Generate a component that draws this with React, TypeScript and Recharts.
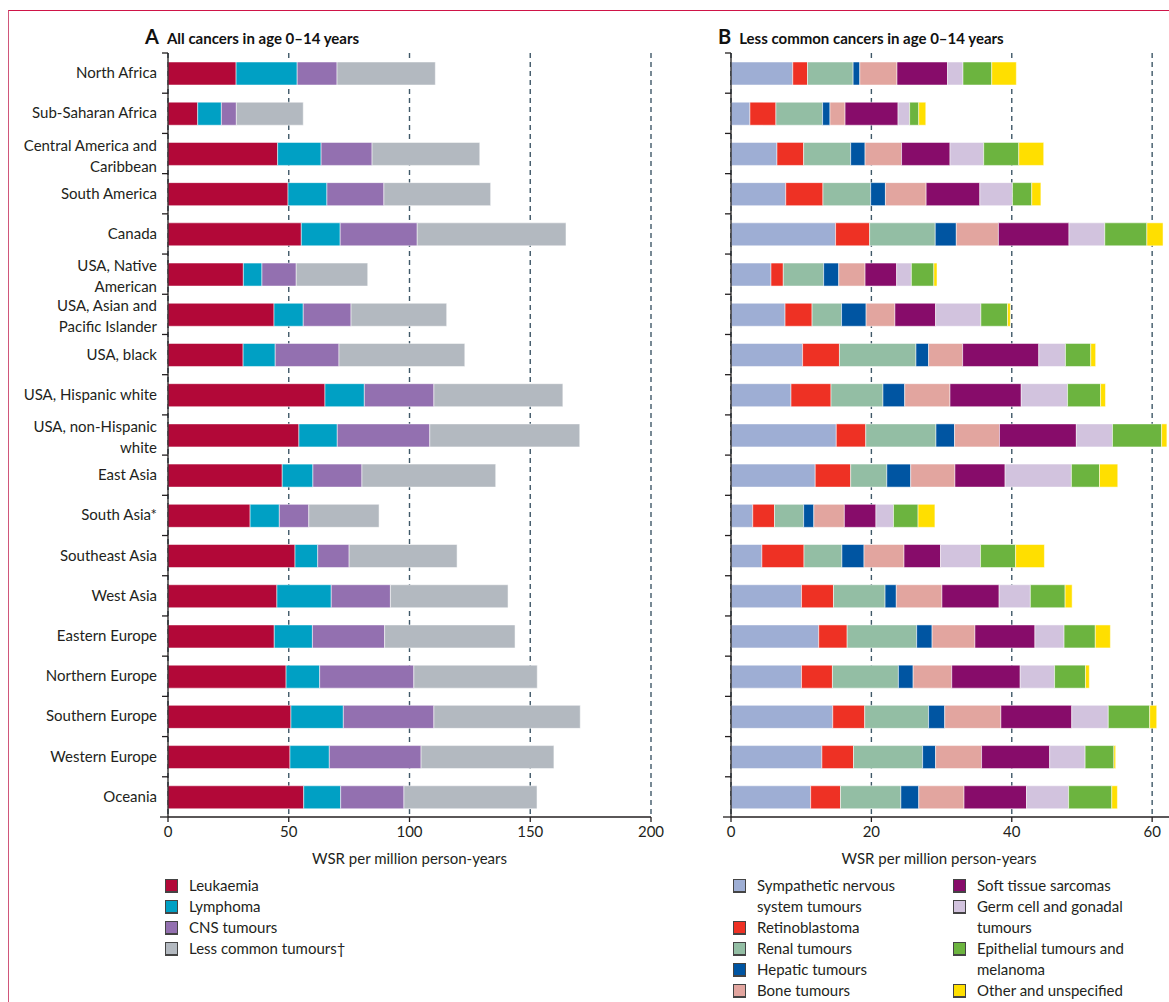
import React from "react"
import { BarChart, Bar, XAxis, YAxis, CartesianGrid } from "recharts"

// regions, top to bottom
const regions = [
  "North Africa",
  "Sub-Saharan Africa",
  "Central America and\nCaribbean",
  "South America",
  "Canada",
  "USA, Native\nAmerican",
  "USA, Asian and\nPacific Islander",
  "USA, black",
  "USA, Hispanic white",
  "USA, non-Hispanic\nwhite",
  "East Asia",
  "South Asia*",
  "Southeast  Asia",
  "West Asia",
  "Eastern Europe",
  "Northern Europe",
  "Southern Europe",
  "Western Europe",
  "Oceania",
]

// panel A, WSR per million
const leukaemia = [28.2, 12.3, 45.4, 49.7, 55.2, 31.2, 43.9, 31.1, 65.0, 54.2, 47.3, 34.0, 52.6, 45.1, 44.0, 48.9, 50.9, 50.5, 56.2]
const lymphoma = [25.3, 9.8, 18.0, 16.1, 16.1, 7.7, 12.1, 13.3, 16.3, 15.9, 12.7, 12.1, 9.4, 22.5, 15.8, 13.9, 21.7, 16.3, 15.3]
const cns = [16.5, 6.2, 21.1, 23.6, 31.9, 14.2, 19.8, 26.4, 28.8, 38.3, 20.3, 12.2, 13.0, 24.5, 29.9, 39.0, 37.5, 38.0, 26.2]
const lessCommon = [40.7, 27.7, 44.6, 44.2, 61.6, 29.6, 39.6, 52.1, 53.4, 62.1, 55.4, 29.1, 44.7, 48.7, 54.0, 51.1, 60.6, 55.0, 55.1]

// panel B, WSR per million
const sympathetic = [8.8, 2.7, 6.55, 7.8, 14.9, 5.7, 7.7, 10.2, 8.55, 15.0, 12.0, 3.1, 4.4, 10.05, 12.5, 10.05, 14.5, 12.95, 11.35]
const retinoblastoma = [2.1, 3.7, 3.8, 5.3, 4.85, 1.75, 3.85, 5.25, 5.7, 4.2, 5.05, 3.1, 6.0, 4.55, 4.05, 4.4, 4.55, 4.5, 4.25]
const renal = [6.5, 6.65, 6.7, 6.8, 9.35, 5.75, 4.2, 10.9, 7.4, 10.0, 5.15, 4.15, 5.4, 7.35, 9.9, 9.4, 9.1, 9.85, 8.6]
const hepatic = [0.95, 1.05, 2.05, 2.1, 3.0, 2.15, 3.5, 1.8, 3.1, 2.65, 3.4, 1.45, 3.15, 1.6, 2.2, 2.1, 2.3, 1.85, 2.55]
const bone = [5.3, 2.15, 5.2, 5.8, 6.0, 3.75, 4.1, 4.85, 6.45, 6.4, 6.3, 4.35, 5.7, 6.5, 6.1, 5.5, 8.0, 6.55, 6.45]
const softTissue = [7.2, 7.55, 6.9, 7.65, 10.05, 4.5, 5.8, 10.85, 10.15, 10.95, 7.15, 4.5, 5.2, 8.15, 8.55, 9.75, 10.1, 9.7, 8.9]
const germCell = [2.2, 1.65, 4.8, 4.65, 5.1, 2.1, 6.45, 3.8, 6.6, 5.15, 9.45, 2.5, 5.7, 4.45, 4.15, 4.9, 5.2, 5.05, 6.0]
const epithelial = [4.1, 1.3, 5.0, 2.75, 6.0, 3.2, 3.8, 3.6, 4.7, 7.0, 4.0, 3.5, 5.0, 4.95, 4.45, 4.4, 5.9, 4.1, 6.15]
const other = [3.5, 1.0, 3.55, 1.3, 2.3, 0.45, 0.4, 0.7, 0.7, 0.75, 2.6, 2.4, 4.1, 1.0, 2.15, 0.55, 1.0, 0.25, 0.8]

const ticksA = [0, 50, 100, 150, 200]
const ticksB = [0, 20, 40, 60]

const seriesA = [
  { key: "leukaemia", name: "Leukaemia", color: "#b20838", values: leukaemia },
  { key: "lymphoma", name: "Lymphoma", color: "#00a0c4", values: lymphoma },
  { key: "cns", name: "CNS tumours", color: "#9370b0", values: cns },
  { key: "lessCommon", name: "Less common tumours†", color: "#b3b9c0", values: lessCommon },
]

const seriesB = [
  { key: "sympathetic", name: "Sympathetic nervous\nsystem tumours", color: "#9eaed4", values: sympathetic },
  { key: "retinoblastoma", name: "Retinoblastoma", color: "#ee3124", values: retinoblastoma },
  { key: "renal", name: "Renal tumours", color: "#93bea4", values: renal },
  { key: "hepatic", name: "Hepatic tumours", color: "#0055a2", values: hepatic },
  { key: "bone", name: "Bone tumours", color: "#e2a59f", values: bone },
  { key: "softTissue", name: "Soft tissue sarcomas", color: "#870c6a", values: softTissue },
  { key: "germCell", name: "Germ cell and gonadal\ntumours", color: "#d2c3de", values: germCell },
  { key: "epithelial", name: "Epithelial tumours and\nmelanoma", color: "#6cb43f", values: epithelial },
  { key: "other", name: "Other and unspecified", color: "#ffdf00", values: other },
]

const dataA = regions.map((r, i) => {
  const row: Record<string, any> = { region: r }
  seriesA.forEach(s => { row[s.key] = s.values[i] })
  return row
})
const dataB = regions.map((r, i) => {
  const row: Record<string, any> = { region: r }
  seriesB.forEach(s => { row[s.key] = s.values[i] })
  return row
})

const FONT = "Lato, 'Noto Sans', sans-serif"
const INK = "#231f20"
const GRID = "#3f5868"
const PLOT_TOP = 53
const PLOT_H = 764
const ROW_H = PLOT_H / regions.length
const TICK_OFF = 11 // tickSize + tickMargin on the y axis
const A_MAX = 200
const B_MAX = 62.4

// grid lines only at the listed ticks (no extra line at the domain end)
const gridAt = (ticks: number[], max: number) => (args: any) => {
  const { offset } = args
  return ticks.map(t => offset.left + (t / max) * offset.width)
}

function RegionTick(props: any) {
  const { x, y, payload, index, showText } = props
  const axisX = x + TICK_OFF
  const lines = String(payload.value).split("\n")
  const last = index === regions.length - 1
  return (
    <g>
      <line x1={axisX - 6} x2={axisX} y1={y - ROW_H / 2} y2={y - ROW_H / 2} stroke={INK} strokeWidth={1.3} />
      {last && (
        <line x1={axisX - 8} x2={axisX} y1={y + ROW_H / 2} y2={y + ROW_H / 2} stroke={INK} strokeWidth={1.3} />
      )}
      {showText && (
        <text x={x} y={y} textAnchor="end" fill={INK} fontSize={15} fontFamily={FONT}>
          {lines.map((l, i) => (
            <tspan key={i} x={x} dy={i === 0 ? (lines.length > 1 ? -3 : 5) : 21}>{l}</tspan>
          ))}
        </text>
      )}
    </g>
  )
}

function Swatch({ color }: { color: string }) {
  return (
    <span style={{
      display: "inline-block", width: 11, height: 11, background: color,
      border: "1px solid #444", borderBottomWidth: 2, marginRight: 11, flexShrink: 0, marginTop: 4,
    }} />
  )
}

function LegendItem({ name, color }: { name: string, color: string }) {
  return (
    <div style={{ display: "flex", alignItems: "flex-start", lineHeight: "21px", fontSize: 15, color: INK }}>
      <Swatch color={color} />
      <div style={{ whiteSpace: "pre" }}>{name}</div>
    </div>
  )
}

export default function App() {
  return (
    <div style={{ position: "absolute", left: 0, top: 0, width: 1169, height: 1002, background: "#fff", fontFamily: FONT, overflow: "hidden" }}>
      <div style={{ position: "absolute", left: 8, top: 10, width: 1200, height: 1100, borderTop: "1.5px solid #cf1448", borderLeft: "1.5px solid #d0567a" }} />

      <div style={{ position: "absolute", left: 145, top: 24, color: "#111", fontWeight: 700, whiteSpace: "nowrap" }}>
        <span style={{ fontSize: 20 }}>A</span>
        <span style={{ fontSize: 15, marginLeft: 8 }}>All cancers in age 0–14 years</span>
      </div>
      <div style={{ position: "absolute", left: 718, top: 24, color: "#111", fontWeight: 700, whiteSpace: "nowrap" }}>
        <span style={{ fontSize: 20 }}>B</span>
        <span style={{ fontSize: 15, marginLeft: 8 }}>Less common cancers in age 0–14 years</span>
      </div>

      <div style={{ position: "absolute", left: 0, top: 0 }}>
        <BarChart width={680} height={880} data={dataA} layout="vertical" barCategoryGap={0}
          margin={{ top: PLOT_TOP, right: 29, left: 0, bottom: 0 }}>
          <CartesianGrid horizontal={false} stroke={GRID} strokeWidth={1.4} strokeDasharray="5 4"
            verticalCoordinatesGenerator={gridAt(ticksA, A_MAX)} />
          <XAxis type="number" domain={[0, A_MAX]} ticks={ticksA} height={63}
            axisLine={{ stroke: INK, strokeWidth: 1.3 }} tickLine={{ stroke: INK, strokeWidth: 1.3 }}
            tickSize={5} tickMargin={4}
            tick={{ fill: INK, fontSize: 15, fontFamily: FONT }}
            label={{ value: "WSR per million person-years", position: "insideBottom", offset: 16, fill: INK, fontSize: 15, fontFamily: FONT }} />
          <YAxis type="category" dataKey="region" width={168} interval={0}
            axisLine={{ stroke: INK, strokeWidth: 1.3 }} tickLine={false} tickSize={8} tickMargin={3}
            tick={<RegionTick showText />} />
          {seriesA.map(s => (
            <Bar key={s.key} dataKey={s.key} name={s.name} stackId="a" fill={s.color} barSize={23}
              stroke="#ffffff" strokeWidth={0.5} isAnimationActive={false} />
          ))}
        </BarChart>
      </div>

      <div style={{ position: "absolute", left: 700, top: 0 }}>
        <BarChart width={469} height={880} data={dataB} layout="vertical" barCategoryGap={0}
          margin={{ top: PLOT_TOP, right: 0, left: 0, bottom: 0 }}>
          <CartesianGrid horizontal={false} stroke={GRID} strokeWidth={1.4} strokeDasharray="5 4"
            verticalCoordinatesGenerator={gridAt(ticksB, B_MAX)} />
          <XAxis type="number" domain={[0, B_MAX]} ticks={ticksB} height={63} allowDataOverflow
            axisLine={{ stroke: INK, strokeWidth: 1.3 }} tickLine={{ stroke: INK, strokeWidth: 1.3 }}
            tickSize={5} tickMargin={4}
            tick={{ fill: INK, fontSize: 15, fontFamily: FONT }}
            label={{ value: "WSR per million person-years", position: "insideBottom", offset: 16, dx: -11, fill: INK, fontSize: 15, fontFamily: FONT }} />
          <YAxis type="category" dataKey="region" width={31} interval={0}
            axisLine={{ stroke: INK, strokeWidth: 1.3 }} tickLine={false} tickSize={8} tickMargin={3}
            tick={<RegionTick showText={false} />} />
          {seriesB.map(s => (
            <Bar key={s.key} dataKey={s.key} name={s.name} stackId="b" fill={s.color} barSize={23}
              stroke="#ffffff" strokeWidth={0.5} isAnimationActive={false} />
          ))}
        </BarChart>
      </div>

      <div style={{ position: "absolute", left: 165, top: 875 }}>
        {seriesA.map(s => <LegendItem key={s.key} name={s.name} color={s.color} />)}
      </div>
      <div style={{ position: "absolute", left: 733, top: 875 }}>
        {seriesB.slice(0, 5).map(s => <LegendItem key={s.key} name={s.name} color={s.color} />)}
      </div>
      <div style={{ position: "absolute", left: 953, top: 875 }}>
        {seriesB.slice(5).map(s => <LegendItem key={s.key} name={s.name} color={s.color} />)}
      </div>
    </div>
  )
}
